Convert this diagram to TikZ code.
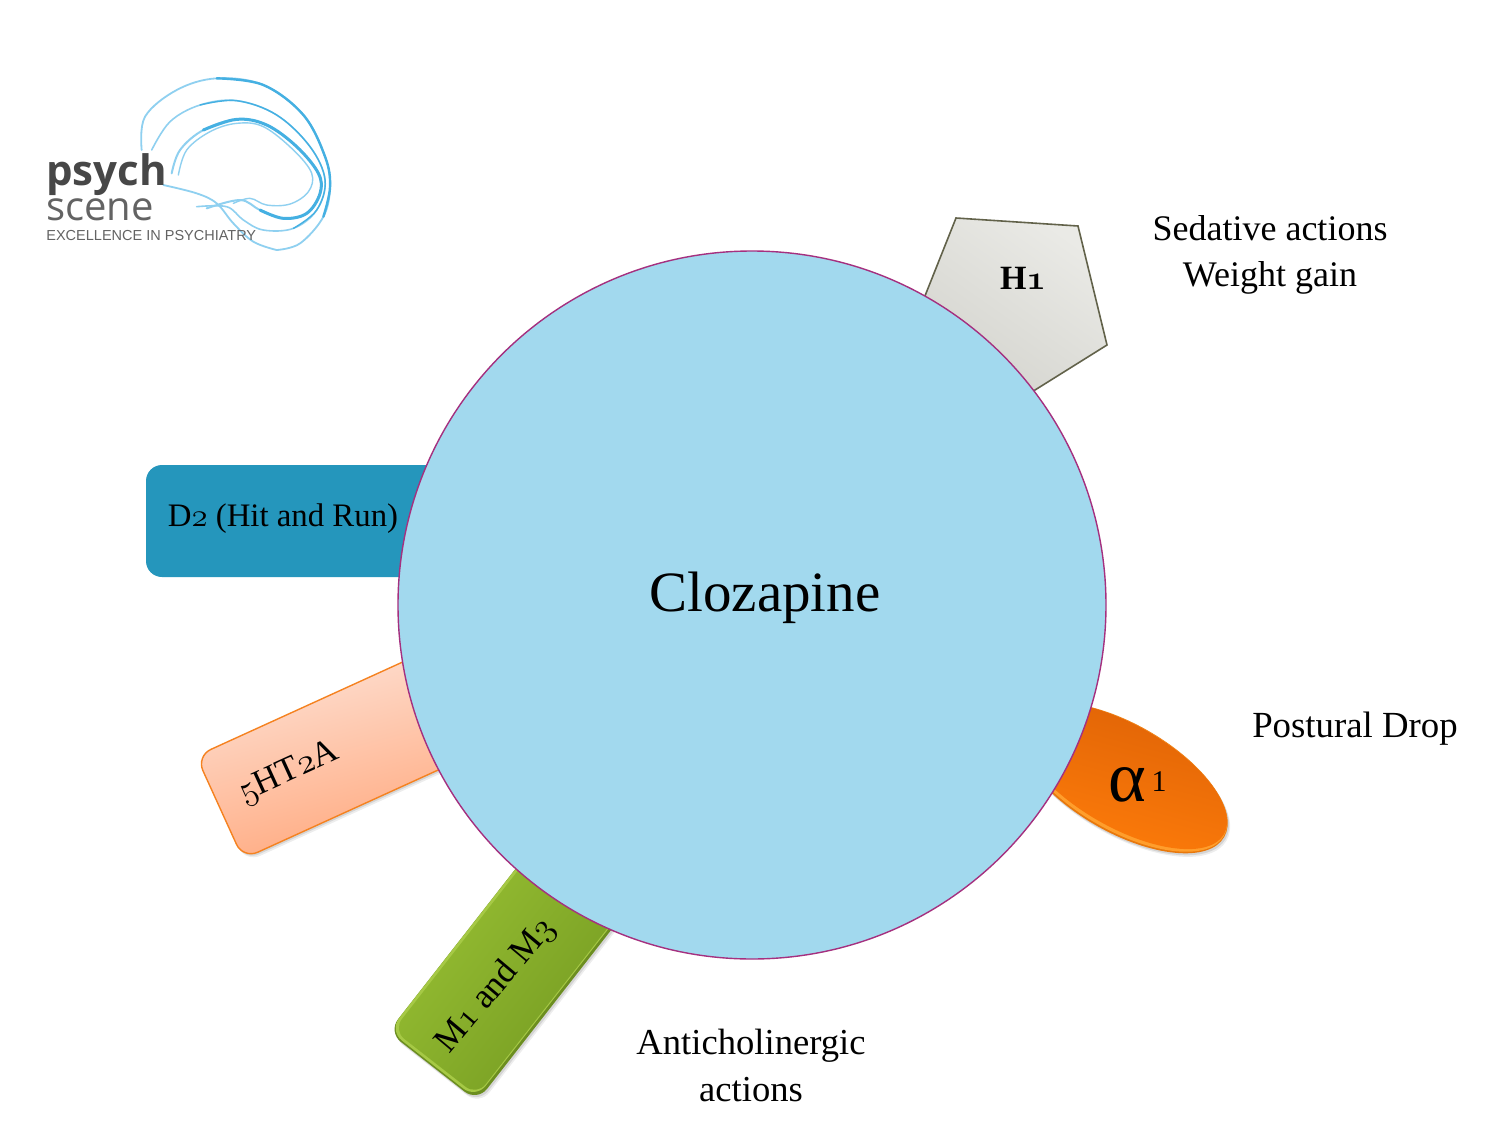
\documentclass[tikz,border=0pt]{standalone}
\usepackage{fontspec}
\usepackage{fix-cm}
\setmainfont{Liberation Serif}
\newfontfamily\logosans{Open Sans}
\newfontfamily\logotag{Liberation Sans}
\usetikzlibrary{shapes.geometric,shadows}
\definecolor{discfill}{HTML}{A2D9EE}
\definecolor{discline}{HTML}{A5307F}
\definecolor{dtwo}{HTML}{2596BC}
\definecolor{logoblue}{HTML}{45B0E2}
\definecolor{logopale}{HTML}{8FD0F0}
\definecolor{logotext}{HTML}{474747}
\definecolor{htwo}{HTML}{F58220}
\definecolor{hlight}{HTML}{FEE4D9}
\definecolor{hdark}{HTML}{FFA67A}
\definecolor{gedge}{HTML}{6C8E20}
\definecolor{ghigh}{HTML}{A6C945}
\definecolor{gtop}{HTML}{9BC335}
\definecolor{gbot}{HTML}{729820}
\definecolor{oedge}{HTML}{E8780C}
\definecolor{ohigh}{HTML}{FF9E2C}
\definecolor{otop}{HTML}{DE6206}
\definecolor{obot}{HTML}{FF7D0A}
\definecolor{pent}{HTML}{62624A}
\definecolor{pentl}{HTML}{EAEAE6}
\definecolor{pentd}{HTML}{D2D2CC}
\newcommand{\osn}[1]{{\usefont{OML}{cmm}{m}{it}#1}}
\newcommand{\fs}[1]{\fontsize{#1}{#1}\selectfont}
\tikzset{
  x=0.5pt,y=-0.5pt,
  softshade/.style={general shadow={shadow xshift=1.2pt,shadow yshift=-1.8pt,fill=black,opacity=.07},
                    general shadow={shadow xshift=.7pt,shadow yshift=-1pt,fill=black,opacity=.10}},
  label/.style={inner sep=0pt,align=center,text=black},
  brain/.style={line width=#1,line cap=round,line join=round,draw=logoblue},
  brainpale/.style={line width=#1,line cap=round,line join=round,draw=logopale},
  greenpart/.style={rectangle,rounded corners=8pt,minimum width=150pt,minimum height=56.5pt,inner sep=0pt,rotate=52},
  orangepart/.style={ellipse,minimum width=118pt,minimum height=54pt,inner sep=0pt,rotate=-30},
}
\begin{document}
\begin{tikzpicture}
\useasboundingbox[fill=white] (0,0) rectangle (1512,1136);

% logo curves (coordinates read from a 3x crop)
\begin{scope}[shift={(30,60)},x=0.1667pt,y=-0.1667pt]
\draw[brainpale=.9pt] plot[smooth,tension=.6] coordinates {(400,375)(500,400)(560,430)(610,490)(670,545)(740,570)};
\draw[brainpale=.9pt] plot[smooth,tension=.6] coordinates {(335,270)(345,170)(440,90)(560,55)(700,75)(820,165)(885,290)(900,380)(880,470)(810,550)(740,570)};
\draw[brain=1.2pt] plot[smooth,tension=.6] coordinates {(560,55)(700,75)(820,165)(885,290)(900,380)(880,470)};
\draw[brainpale=.8pt] plot[smooth,tension=.6] coordinates {(365,270)(420,185)(510,135)(620,122)(740,165)(840,260)(885,360)(860,450)(790,505)(700,510)(640,480)(590,440)(500,440)};
\draw[brain=.7pt] plot[smooth,tension=.6] coordinates {(510,135)(620,122)(740,165)(840,260)(885,360)(860,450)(790,505)};
\draw[brainpale=1pt] plot[smooth,tension=.6] coordinates {(425,340)(450,270)(520,210)(620,178)(710,195)(800,260)(865,340)(870,400)(830,460)(760,475)(690,450)(630,420)(530,445)};
\draw[brain=1.5pt] plot[smooth,tension=.6] coordinates {(520,210)(620,178)(710,195)(800,260)(865,340)(870,400)(830,460)(760,475)(690,450)};
\draw[brainpale=.7pt] plot[smooth,tension=.6] coordinates {(445,345)(470,270)(540,215)(620,190)(700,200)(790,270)(845,340)(835,395)(780,432)(710,435)(660,415)(610,430)};
\end{scope}

\node[inner sep=0pt,anchor=base west,text=logotext] (psych) at (46,185) {\logosans\bfseries\fs{21}psych};
\node[inner sep=0pt,anchor=base west,text=logotext!85] (scene) at (46,220) {\logosans\fs{20}scene};
\node[inner sep=0pt,anchor=base west,text=logotext!85] (tagline) at (46,240) {\logotag\fs{7.25}EXCELLENCE IN PSYCHIATRY};

% receptors
\node[rectangle,rounded corners=8pt,fill=dtwo,minimum width=152pt,minimum height=56pt,inner sep=0pt] (d2box) at (298,521) {};
\node[rectangle,rounded corners=8pt,draw=htwo,line width=.7pt,top color=hlight,bottom color=hdark,shading angle=15,minimum width=141pt,minimum height=56.5pt,inner sep=0pt,rotate=24.5,softshade] (ht2abox) at (348,749) {};

\node[greenpart,fill=gedge,softshade] (mbox) at (525,948.5) {};
\node[greenpart,fill=ghigh,minimum height=55pt,minimum width=148.5pt] (mhigh) at (524,947.5) {};
\node[greenpart,top color=gtop,bottom color=gbot,shading angle=52,minimum height=53pt,minimum width=147pt,rounded corners=7pt] (mface) at (525.5,947) {};

\node[orangepart,fill=oedge,softshade] (alphabox) at (1122,778) {};
\node[orangepart,fill=ohigh,minimum width=117pt,minimum height=52.8pt] (alphahigh) at (1122.5,777.5) {};
\node[orangepart,top color=otop,bottom color=obot,shading angle=-15,minimum width=116.5pt,minimum height=51pt] (alphaface) at (1123,776) {};

\path[top color=pentl,bottom color=pentd,shading angle=-35,draw=pent,line width=.8pt] (956,218) -- (1078,226) -- (1107,345) -- (1003,410) -- (911,331) -- cycle;
\coordinate (h1apex) at (956,218);

% central disc
\node[circle,fill=discfill,draw=discline,line width=.7pt,minimum size=354pt,inner sep=0pt] (disc) at (752,605) {};

% labels
\node[label] (clozapine) at (765,598) {\fs{28.5}Clozapine};
\node[label] (h1) at (1023,278) {\fs{17}\bfseries H{\usefont{OML}{cmm}{b}{it}1}};
\node[label] (d2) at (283,519) {\fs{16.4}D\osn{2} (Hit and Run)};
\node[label,rotate=24.5] (ht2a) at (289,773) {\fs{17.5}\osn{5}HT\osn{2}A};
\node[label,rotate=50] (m13) at (496,986) {\fs{17.5}M\osn{1} and M\osn{3}};
\node[label] (alpha) at (1127,785) {\fs{36}α};
\node[label] (alphaone) at (1159,782) {\fs{15}1};
\node[label] (sedative) at (1270,228) {\fs{18}Sedative actions};
\node[label] (weight) at (1270,278) {\fs{18}Weight gain};
\node[label] (postural) at (1355,729) {\fs{18.4}Postural Drop};
\node[label] (antichol) at (751,1046) {\fs{18.3}Anticholinergic};
\node[label] (actions) at (751,1090) {\fs{18.3}actions};
\end{tikzpicture}
\end{document}
